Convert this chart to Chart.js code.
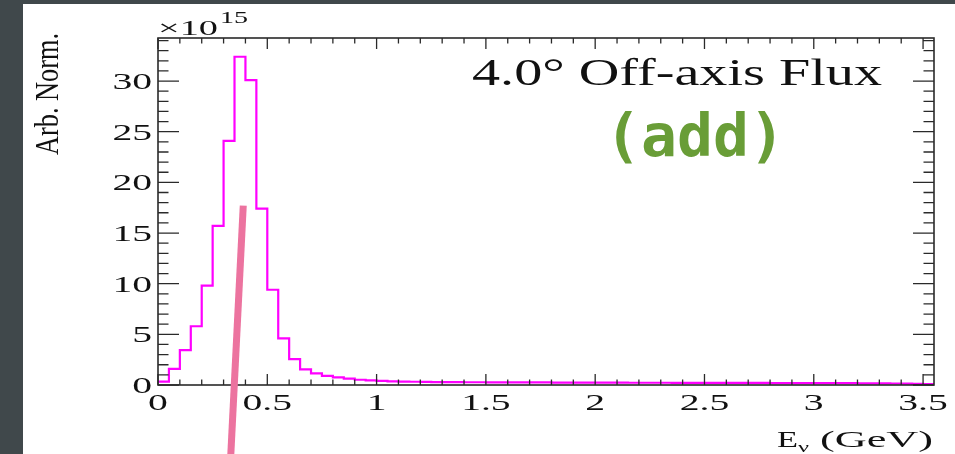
<!DOCTYPE html>
<html>
<head>
<meta charset="utf-8">
<script src="https://cdn.jsdelivr.net/npm/chart.js@4.4.1/dist/chart.umd.min.js"></script>
<style>
  html, body { margin: 0; padding: 0; background: #40484b; }
  canvas { display: block; }
</style>
</head>
<body>
<canvas id="fluxChart" width="955" height="454"></canvas>
<script>
// ===== Data (units of 1e15, bins of 0.05 GeV starting at 0) =====
const binWidth = 0.05;
const xMax = 3.55;
const yMax = 34.25;
const fluxValues = [
  0.33, 1.6, 3.45, 5.8, 9.8, 15.7, 24.1, 32.4, 30.1, 17.4,
  9.4, 4.6, 2.55, 1.55, 1.15, 0.9, 0.75, 0.62, 0.52, 0.45,
  0.4, 0.36, 0.34, 0.32, 0.30, 0.29, 0.28, 0.28, 0.27, 0.27,
  0.26, 0.26, 0.26, 0.25, 0.25, 0.25, 0.24, 0.24, 0.24, 0.23,
  0.23, 0.23, 0.23, 0.22, 0.22, 0.22, 0.22, 0.21, 0.21, 0.21,
  0.21, 0.2, 0.2, 0.2, 0.2, 0.2, 0.19, 0.19, 0.19, 0.19,
  0.18, 0.18, 0.18, 0.18, 0.17, 0.17, 0.16, 0.15, 0.14, 0.12,
  0.1
];
const xTickLabels = ['0', '0.5', '1', '1.5', '2', '2.5', '3', '3.5'];
const yTickLabels = ['0', '5', '10', '15', '20', '25', '30'];
// hand-drawn pointer on the slide, in axis units
const pointerLine = [{ x: 0.39, y: 17.7 }, { x: 0.333, y: -6.9 }];

const histPoints = fluxValues.map((v, i) => ({ x: +(i * binWidth).toFixed(2), y: v }));
histPoints.push({ x: xMax, y: fluxValues[fluxValues.length - 1] });

const SERIF = '"Liberation Serif", "DejaVu Serif", serif';

// draw text squeezed/stretched horizontally
function wideText(ctx, text, x, y, sx, align) {
  ctx.save();
  ctx.translate(x, y);
  ctx.scale(sx, 1);
  ctx.textAlign = align || 'left';
  ctx.fillText(text, 0, 0);
  ctx.restore();
}
// fit text into a target width
function fitText(ctx, text, x, y, width) {
  const w = ctx.measureText(text).width;
  wideText(ctx, text, x, y, width / w, 'left');
}

const slidePlugin = {
  id: 'slide',
  beforeDraw(chart) {
    const c = chart.ctx;
    c.save();
    c.fillStyle = '#40484b';
    c.fillRect(0, 0, chart.width, chart.height);
    c.fillStyle = '#ffffff';
    c.fillRect(23, 4, chart.width - 23, chart.height - 4);
    c.restore();
  },
  afterDraw(chart) {
    const c = chart.ctx;
    const { left, right, top, bottom } = chart.chartArea;
    const xs = chart.scales.x, ys = chart.scales.y;
    c.save();

    // frame
    c.strokeStyle = '#2a2a2a';
    c.lineWidth = 1.6;
    c.strokeRect(left, top, right - left, bottom - top);

    // ticks, pointing inside the frame
    c.lineWidth = 1.3;
    c.beginPath();
    for (let k = 0; k <= 35; k++) {
      const px = xs.getPixelForValue(k / 10);
      const len = k % 5 === 0 ? 11 : 5.5;
      c.moveTo(px, bottom); c.lineTo(px, bottom - len);
      c.moveTo(px, top); c.lineTo(px, top + len);
    }
    for (let k = 0; k <= 34; k++) {
      const py = ys.getPixelForValue(k);
      const len = k % 5 === 0 ? 21 : 10.5;
      c.moveTo(left, py); c.lineTo(left + len, py);
      c.moveTo(right, py); c.lineTo(right - len, py);
    }
    c.stroke();

    // tick labels
    c.fillStyle = '#111';
    c.font = '24px ' + SERIF;
    xTickLabels.forEach(t => {
      wideText(c, t, xs.getPixelForValue(+t), bottom + 25, 1.65, 'center');
    });
    yTickLabels.forEach(t => {
      wideText(c, t, left - 6, ys.getPixelForValue(+t) + 8, 1.65, 'right');
    });

    // exponent
    c.font = '22px ' + SERIF;
    fitText(c, '\u00d710', 158, 35, 60);
    c.font = '17px ' + SERIF;
    fitText(c, '15', 220, 23, 28);

    // axis titles
    c.font = '24px ' + SERIF;
    fitText(c, 'E', 777, 447, 21);
    c.font = '15px ' + SERIF;
    fitText(c, '\u03bd', 798, 452, 11);
    c.font = '24px ' + SERIF;
    fitText(c, '(GeV)', 820, 447, 113);

    c.save();
    c.translate(58, 155);
    c.rotate(-Math.PI / 2);
    c.font = '26px ' + SERIF;
    const tw = c.measureText('Arb. Norm.').width;
    c.scale(122 / tw, 1.3);
    c.fillText('Arb. Norm.', 0, 0);
    c.restore();

    // plot label
    c.font = '38px ' + SERIF;
    fitText(c, '4.0\u00b0 Off-axis Flux', 472, 85, 410);

    c.fillStyle = '#699d37';
    c.font = 'bold 58px "DejaVu Sans Mono", "Liberation Mono", monospace';
    fitText(c, '(add)', 605, 156, 180);

    // pointer stroke
    c.strokeStyle = '#ec739f';
    c.lineWidth = 7;
    c.beginPath();
    c.moveTo(xs.getPixelForValue(pointerLine[0].x), ys.getPixelForValue(pointerLine[0].y));
    c.lineTo(xs.getPixelForValue(pointerLine[1].x), ys.getPixelForValue(pointerLine[1].y));
    c.stroke();

    c.restore();
  }
};

new Chart(document.getElementById('fluxChart'), {
  type: 'line',
  data: {
    datasets: [{
      data: histPoints,
      borderColor: '#ff00ff',
      borderWidth: 2.2,
      stepped: 'before',
      pointRadius: 0,
      fill: false,
    }]
  },
  options: {
    responsive: false,
    animation: false,
    events: [],
    layout: { padding: { left: 158, top: 38, right: 21, bottom: 69 } },
    plugins: { legend: { display: false }, tooltip: { enabled: false } },
    scales: {
      x: { type: 'linear', min: 0, max: xMax, display: false },
      y: { type: 'linear', min: 0, max: yMax, display: false }
    }
  },
  plugins: [slidePlugin]
});
</script>
</body>
</html>
